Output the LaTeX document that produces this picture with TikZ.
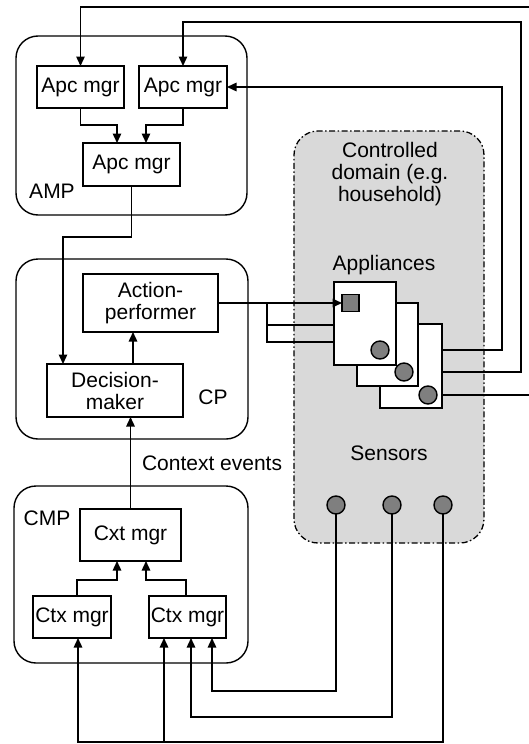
\documentclass[tikz,border=0pt]{standalone}
\usepackage{fontspec}
\setmainfont{Liberation Sans}
\usetikzlibrary{arrows.meta,calc}
\definecolor{domaingray}{HTML}{D9D9D9}
\definecolor{dotgray}{HTML}{7F7F7F}
\begin{document}
\begin{tikzpicture}[x=1pt,y=-1pt,
  every node/.style={font=\fontsize{21}{22}\selectfont, inner sep=0pt, outer sep=0pt},
  blk/.style={draw, line width=1.4pt, fill=white, align=center},
  panel/.style={draw, line width=1.4pt, rounded corners=22pt},
  arr/.style={line width=1.4pt, -{Triangle[length=9.5pt,width=8.5pt]}},
  wire/.style={line width=1.2pt},
  dotc/.style={circle, draw, line width=1.4pt, fill=dotgray, minimum size=18pt},
  lbl/.style={align=center}
]
\useasboundingbox[fill=white] (0,0) rectangle (528,744);

% controlled domain
\node[draw, line width=1.3pt, fill=domaingray, rounded corners=24pt,
      dash pattern=on 6pt off 2.5pt on 1.5pt off 2.5pt,
      minimum width=190pt, minimum height=412pt] (dom) at (389,337) {};
\node[lbl] (domtxt) at (390,174) {Controlled\\domain (e.g.\\household)};
\node[lbl] (applbl) at (384,265) {Appliances};
\node[lbl] (senlbl) at (389,453) {Sensors};

% panels
\node[panel, minimum width=231pt, minimum height=179pt] (amp) at (131.5,125.5) {};
\node[panel, minimum width=232pt, minimum height=180pt] (cp) at (132,349) {};
\node[panel, minimum width=234pt, minimum height=177pt] (cmp) at (131,574.5) {};
\node[lbl] (amplbl) at (52,191) {AMP};
\node[lbl] (cplbl) at (213,397) {CP};
\node[lbl] (cmplbl) at (47,518) {CMP};

% AMP blocks
\node[blk, minimum width=87pt, minimum height=42pt] (apcL) at (80.5,87) {Apc mgr};
\node[blk, minimum width=88pt, minimum height=42pt] (apcR) at (183,87) {Apc mgr};
\node[blk, minimum width=97pt, minimum height=43pt] (apcB) at (131.5,164.5) {Apc mgr};

% CP blocks
\node[blk, minimum width=135pt, minimum height=58pt] (act) at (150.5,303) {Action-\\performer};
\node[blk, minimum width=136pt, minimum height=53pt] (dec) at (115,390.5) {Decision-\\maker};
\node[lbl, anchor=west] (ctxev) at (142,463) {Context events};

% CMP blocks
\node[blk, minimum width=101pt, minimum height=52pt] (cxt) at (130.5,535) {Cxt mgr};
\node[blk, minimum width=78pt, minimum height=42pt] (ctxL) at (72,617) {Ctx mgr};
\node[blk, minimum width=77pt, minimum height=42pt] (ctxR) at (187.5,617) {Ctx mgr};

% sensors
\node[dotc] (s1) at (336,505) {};
\node[dotc] (s2) at (392,505) {};
\node[dotc] (s3) at (443,505) {};

% appliance anchor coordinates for wires
\coordinate (c1p) at (380,350);
\coordinate (c2p) at (404,372);
\coordinate (c3p) at (428,395);

% wires from appliances to AMP (behind appliance boxes)
\draw[arr] (c1p) -- ++(122,0) |- (apcR.east);
\draw[arr] (c2p) -- ++(117,0) -- ++(0,-350) -| (apcR.north);
\draw[arr] (c3p) -- ++(107,0) -- ++(0,-388) -| (apcL.north);

% action performer to appliances
\coordinate (br) at (267,303);
\draw[wire] (br) |- (334,325);
\draw[wire] (br) |- (334,342);

% appliance boxes (back to front)
\node[blk, minimum width=62pt, minimum height=84pt] (ap3) at (411,366) {};
\node[dotc] (c3) at (c3p) {};
\node[blk, minimum width=61pt, minimum height=83pt] (ap2) at (387.5,344.5) {};
\node[dotc] (c2) at (c2p) {};
\node[blk, minimum width=62pt, minimum height=83pt] (ap1) at (365,323.5) {};
\node[dotc] (c1) at (c1p) {};
\node[draw, line width=1.3pt, fill=dotgray, minimum size=17pt] (sq) at (350.5,303) {};
\draw[arr, line width=1.6pt] (act.east) -- (sq.west);

% AMP internal
\draw[arr] (apcL.south) -- ++(0,17) -| ([xshift=-14.5pt]apcB.north);
\draw[arr] (apcR.south) -- ++(0,17) -| ([xshift=14.5pt]apcB.north);
\draw[arr] (apcB.south) -- ++(0,51) -| ([xshift=-52pt]dec.north);

% CP internal
\draw[arr] ([xshift=18pt]dec.north) -- ([xshift=18pt]dec.north |- act.south);
\draw[arr] (cxt.north) -- (cxt.north |- dec.south);

% CMP internal
\draw[arr] ([xshift=5pt]ctxL.north) -- ++(0,-16) -| ([xshift=-13.5pt]cxt.south);
\draw[arr] ([xshift=-1.5pt]ctxR.north) -- ++(0,-16) -| ([xshift=15.5pt]cxt.south);

% sensors to context managers
\coordinate (b3) at ($(s3.south)+(0,228)$);
\draw[arr] (s1.south) -- ++(0,177) -| ([xshift=24.5pt]ctxR.south);
\draw[arr] (s2.south) -- ++(0,203) -| ([xshift=3.5pt]ctxR.south);
\draw[arr] (s3.south) -- (b3) -| ([xshift=6pt]ctxL.south);
\draw[arr] (b3) -| ([xshift=-23.5pt]ctxR.south);
\end{tikzpicture}
\end{document}
